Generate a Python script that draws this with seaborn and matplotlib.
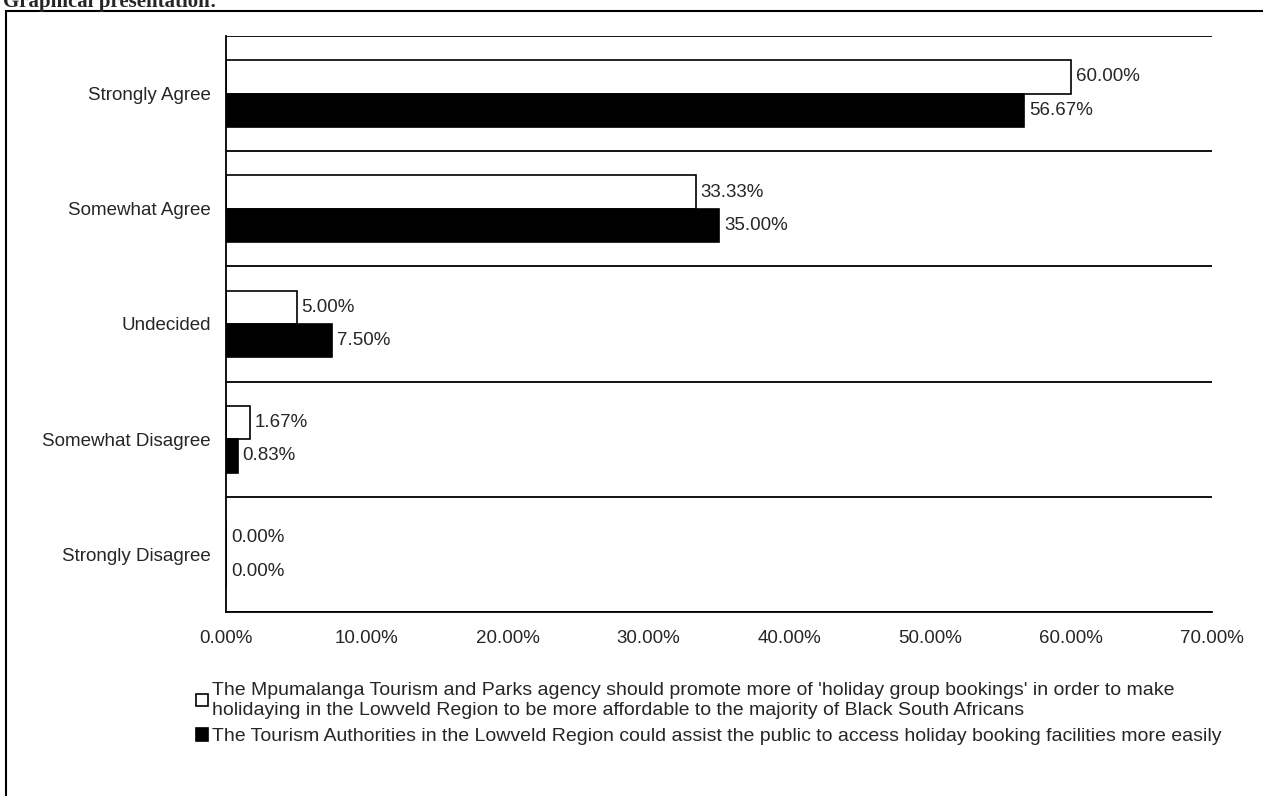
import matplotlib.pyplot as plt
import matplotlib.patches as mpatches
import matplotlib.ticker as mticker
import pandas as pd
import seaborn as sns

# data (percent)
categories = ["Strongly Agree", "Somewhat Agree", "Undecided",
              "Somewhat Disagree", "Strongly Disagree"]
promote_group_bookings = [60.00, 33.33, 5.00, 1.67, 0.00]
assist_public_access = [56.67, 35.00, 7.50, 0.83, 0.00]

label_a = ("The Mpumalanga Tourism and Parks agency should promote more of 'holiday group bookings' in order to make\n"
           "holidaying in the Lowveld Region to be more affordable to the majority of Black South Africans")
label_b = ("The Tourism Authorities in the Lowveld Region could assist the public to access holiday booking facilities more easily")

def main():
    df = pd.DataFrame({
        "category": categories * 2,
        "value": promote_group_bookings + assist_public_access,
        "series": [label_a] * len(categories) + [label_b] * len(categories),
    })

    sns.set_style("white")
    plt.rcParams["font.family"] = ["Liberation Sans", "DejaVu Sans"]

    fig = plt.figure(figsize=(12.63, 7.96), dpi=100)
    ax = fig.add_axes([0.179, 0.2312, 0.7807, 0.7236])

    sns.barplot(data=df, y="category", x="value", hue="series", orient="h",
                palette=["white", "black"], edgecolor="black", linewidth=1.2,
                width=0.58, ax=ax)

    for cont in ax.containers:
        ax.bar_label(cont, fmt="%.2f%%", padding=3.5, fontsize=13.5)

    ax.set_xlim(0, 70)
    ax.set_ylim(4.5, -0.5)
    ax.xaxis.set_major_locator(mticker.MultipleLocator(10))
    ax.xaxis.set_major_formatter(mticker.FuncFormatter(lambda v, p: f"{v:.2f}%"))
    ax.tick_params(axis="x", direction="out", length=5, width=1, labelsize=13.5, pad=8)
    ax.tick_params(axis="y", which="major", length=0, labelsize=13.5, pad=11)

    # lines between categories
    ax.set_yticks([i - 0.5 for i in range(len(categories) + 1)], minor=True)
    ax.tick_params(axis="y", which="minor", length=4, width=1, direction="out")
    ax.grid(True, axis="y", which="minor", color="black", linewidth=1.3)
    ax.grid(False, axis="x")

    ax.set_xlabel("")
    ax.set_ylabel("")
    for side in ["top", "right"]:
        ax.spines[side].set_visible(False)
    for side in ["left", "bottom"]:
        ax.spines[side].set_color("black")
        ax.spines[side].set_linewidth(1.3)

    handles, labels = ax.get_legend_handles_labels()
    ax.get_legend().remove()
    fig.legend(handles, labels, loc="upper left", bbox_to_anchor=(0.149, 0.153),
               frameon=False, fontsize=14, handlelength=0.6, handleheight=0.6,
               handletextpad=0.25, labelspacing=0.5, borderaxespad=0)

    # outer chart frame and the cut-off heading of the page
    frame = mpatches.Rectangle((0.005, -0.2), 1.2, 1.186, transform=fig.transFigure,
                               fill=False, edgecolor="black", linewidth=1.5, clip_on=False)
    fig.patches.append(frame)
    fig.text(0.002, 1 - 7 / 796, "Graphical presentation:", family="Liberation Serif",
             fontweight="bold", fontsize=15, va="baseline", ha="left")

    plt.savefig("out.png", dpi=100)

if __name__ == "__main__":
    main()
